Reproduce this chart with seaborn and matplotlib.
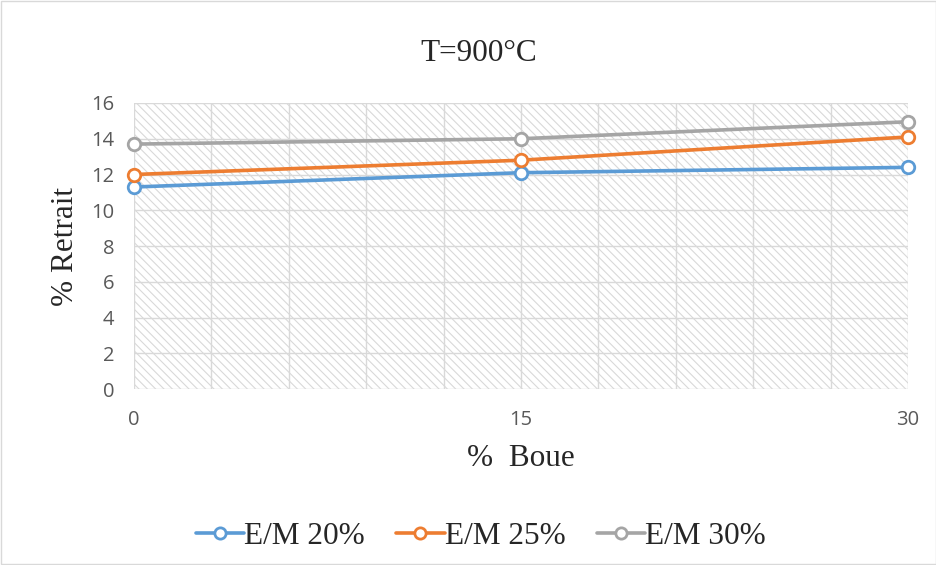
import numpy as np
import pandas as pd
import matplotlib
matplotlib.use("Agg")
import matplotlib.pyplot as plt
from matplotlib.patches import Rectangle
from matplotlib.ticker import MultipleLocator
import seaborn as sns

# données
boue = [0, 15, 30]
em20 = [11.3, 12.1, 12.4]
em25 = [12.0, 12.8, 14.1]
em30 = [13.7, 14.0, 14.95]
series = ["E/M 20%", "E/M 25%", "E/M 30%"]
couleurs = ["#5B9BD5", "#ED7D31", "#A5A5A5"]

df = pd.DataFrame({
    "Boue": boue * 3,
    "Retrait": em20 + em25 + em30,
    "Serie": [s for s in series for _ in boue],
})

sns.set_style("white")
plt.rcParams["hatch.linewidth"] = 0.8
plt.rcParams["hatch.color"] = "#D9D9D9"

fig = plt.figure(figsize=(9.37, 5.65), dpi=100)
ax = fig.add_axes([0.143, 0.3115, 0.826, 0.5062])

# fond hachuré
ax.add_patch(Rectangle((0, 0), 1, 1, transform=ax.transAxes, facecolor="white",
                       edgecolor="#D9D9D9", hatch="\\\\\\\\", lw=0, zorder=0))

sns.lineplot(data=df, x="Boue", y="Retrait", hue="Serie", palette=couleurs,
             marker="o", markersize=9, markerfacecolor="white",
             markeredgewidth=2, linewidth=2.6, ax=ax, zorder=5, clip_on=False)
for l in ax.lines:
    l.set_markeredgecolor(l.get_color())

ax.set_xlim(0, 30)
ax.set_ylim(0, 16)
ax.set_xticks([0, 15, 30])
ax.xaxis.set_minor_locator(MultipleLocator(3))
ax.yaxis.set_major_locator(MultipleLocator(2))
ax.grid(True, which="both", color="#D9D9D9", lw=1, zorder=1)
ax.set_axisbelow(True)
for s in ax.spines.values():
    s.set_visible(False)
ax.tick_params(axis="both", which="both", length=0, labelsize=14.5, labelcolor="#595959")
ax.tick_params(axis="x", pad=15)
ax.tick_params(axis="y", pad=14)
for t in ax.get_xticklabels() + ax.get_yticklabels():
    t.set_family("Open Sans")

ax.set_title("T=900°C", family="Liberation Serif", fontsize=22.5, pad=30, x=0.446)
ax.set_xlabel("%  Boue", family="Liberation Serif", fontsize=22.5, labelpad=10)
ax.set_ylabel("% Retrait", family="Liberation Serif", fontsize=22.5, labelpad=8)

h, lab = ax.get_legend_handles_labels()
ax.legend(h, lab, loc="center", bbox_to_anchor=(0.448, -0.514), ncol=3, frameon=False,
          prop={"family": "Liberation Serif", "size": 22.5}, handlelength=1.55,
          handletextpad=0.0, columnspacing=1.0, markerscale=0.9)

fig.add_artist(Rectangle((0.001, 0.001), 0.998, 0.998, transform=fig.transFigure,
                         fill=False, edgecolor="#D9D9D9", lw=1))
fig.savefig("out.png", dpi=100)
